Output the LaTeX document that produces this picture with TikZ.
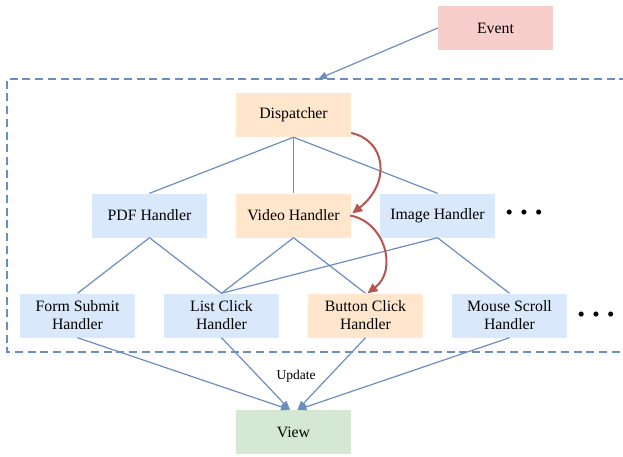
\documentclass[tikz,border=0pt]{standalone}
\usepackage{fontspec}
\setmainfont{Liberation Serif}
\usetikzlibrary{arrows.meta}
\definecolor{bluefill}{HTML}{DAE8FC}
\definecolor{orangefill}{HTML}{FFE6CC}
\definecolor{greenfill}{HTML}{D5E8D4}
\definecolor{pinkfill}{HTML}{F8CECC}
\definecolor{lineblue}{HTML}{6C8EBF}
\definecolor{darkred}{HTML}{B85450}
\begin{document}
\begin{tikzpicture}[x=1pt,y=-1pt,
  box/.style={minimum width=115pt, minimum height=44pt, inner sep=0pt, align=center,
    font=\fontsize{15.8}{18}\selectfont, text=black},
  bluebox/.style={box, fill=bluefill},
  orangebox/.style={box, fill=orangefill},
  link/.style={draw=lineblue, line width=1.2pt},
  arrowlink/.style={link, -{Triangle[length=9pt,width=7pt]}},
  redarrow/.style={draw=darkred, line width=2pt, -{Triangle[length=10pt,width=9pt]}},
  frame/.style={draw=lineblue, line width=2.2pt, dash pattern=on 8pt off 4.7pt},
  dots/.style={font=\fontsize{21}{22}\selectfont}
]
\useasboundingbox (0,0) rectangle (623,456);

% frame
\draw[frame] (640,79) -- (6.7,79) -- (6.7,352) -- (640,352);
\coordinate (entry) at (318,79);

\node[box, fill=pinkfill] (event) at (495.5,28) {Event};
\node[orangebox] (disp) at (293.5,115) {Dispatcher};
\node[bluebox] (pdf) at (149.5,215.5) {PDF Handler};
\node[orangebox] (video) at (293.5,215.5) {Video Handler};
\node[bluebox] (image) at (437.5,215.5) {Image Handler};
\node[dots] (dots1) at (524,215) {•\hskip 7.4pt•\hskip 7.4pt•};

\node[bluebox] (form) at (77.5,315.5) {Form Submit\\Handler};
\node[bluebox] (list) at (221.5,315.5) {List Click\\Handler};
\node[orangebox] (button) at (365.5,315.5) {Button Click\\Handler};
\node[bluebox] (mouse) at (509.5,315.5) {Mouse Scroll\\Handler};
\node[dots] (dots2) at (596,317) {•\hskip 7.4pt•\hskip 7.4pt•};

\node[box, fill=greenfill] (view) at (293.5,432) {View};
\coordinate (vl) at ([xshift=-3.5pt]view.north);
\coordinate (vr) at ([xshift=4pt]view.north);

\draw[arrowlink] (event.west) -- (entry);

\draw[link] (disp.south) -- (pdf.north);
\draw[link] (disp.south) -- (video.north);
\draw[link] (disp.south) -- (image.north);

\draw[link] (pdf.south) -- (form.north);
\draw[link] (pdf.south) -- (list.north);
\draw[link] (video.south) -- (list.north);
\draw[link] (video.south) -- (button.north);
\draw[link] (image.south) -- (list.north);
\draw[link] (image.south) -- (mouse.north);

\draw[arrowlink] (form.south) -- (vl);
\draw[arrowlink] (list.south) -- (vl);
\draw[arrowlink] (button.south) -- (vr);
\draw[arrowlink] (mouse.south) -- (vr);

\node[font=\fontsize{13.5}{15}\selectfont, text=black] (update) at (296,376) {Update};

\draw[redarrow] ([yshift=-18pt]disp.east) .. controls (385,140) and (392,182) .. ([xshift=1pt,yshift=2pt]video.east);
\draw[redarrow] ([xshift=-1pt]video.east) .. controls (385,222) and (398,270) .. ([xshift=2pt]button.north);
\end{tikzpicture}
\end{document}
